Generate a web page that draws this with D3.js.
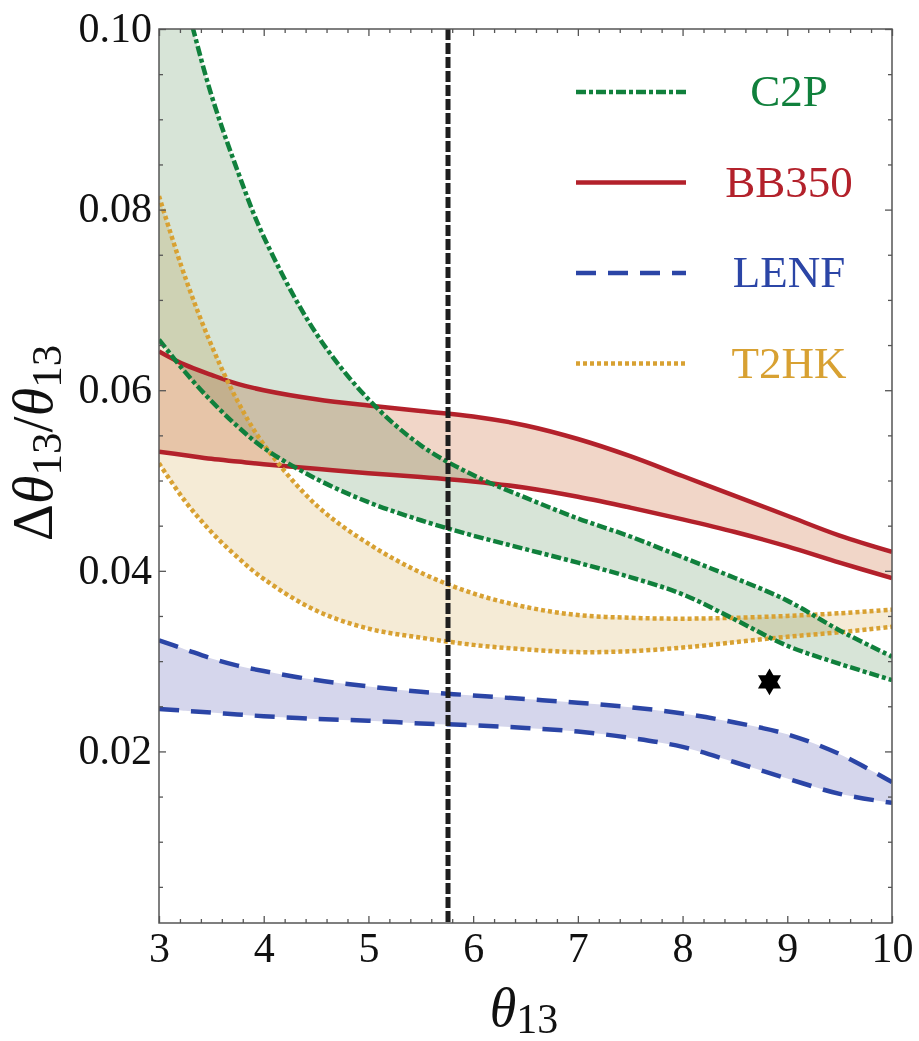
<!DOCTYPE html>
<html>
<head>
<meta charset="utf-8">
<script src="https://cdn.jsdelivr.net/npm/d3@7"></script>
<style>
  html, body { margin: 0; padding: 0; background: #fff; }
  svg { display: block; font-family: "Liberation Serif", "Times New Roman", serif; }
</style>
</head>
<body>
<svg id="chart" width="919" height="1041"></svg>
<script>
// theta13 grid shared by all the bands
var theta = [3, 3.25, 3.5, 3.75, 4, 4.5, 5, 5.5, 6, 6.5, 7, 7.5, 8, 8.5, 9, 9.5, 10];

var c2pUpper = [0.1130, 0.1032, 0.0927, 0.0843, 0.0770, 0.0663, 0.0590, 0.0539, 0.0506, 0.0481, 0.0458, 0.0438, 0.0415, 0.0392, 0.0367, 0.0334, 0.0305];
var c2pLower = [0.0656, 0.0620, 0.0588, 0.0560, 0.0536, 0.0502, 0.0476, 0.0456, 0.0439, 0.0424, 0.0409, 0.0393, 0.0374, 0.0346, 0.0317, 0.0297, 0.0279];

var bb350Upper = [0.0643, 0.0628, 0.0617, 0.0607, 0.0600, 0.0590, 0.0583, 0.0577, 0.0571, 0.0561, 0.0546, 0.0527, 0.0505, 0.0483, 0.0461, 0.0439, 0.0421];
var bb350Lower = [0.0532, 0.0528, 0.0524, 0.0521, 0.0518, 0.0513, 0.0508, 0.0504, 0.0499, 0.0492, 0.0482, 0.0470, 0.0457, 0.0443, 0.0427, 0.0409, 0.0392];

var lenfUpper = [0.0323, 0.0313, 0.0303, 0.0295, 0.0289, 0.0279, 0.0272, 0.0266, 0.0262, 0.0258, 0.0254, 0.0249, 0.0242, 0.0232, 0.0219, 0.0197, 0.0166];
var lenfLower = [0.0247, 0.0245, 0.0243, 0.0241, 0.0239, 0.0236, 0.0234, 0.0231, 0.0229, 0.0226, 0.0222, 0.0215, 0.0205, 0.0188, 0.0170, 0.0153, 0.0143];

var t2hkUpper = [0.0815, 0.0725, 0.0650, 0.0588, 0.0540, 0.0473, 0.0430, 0.0398, 0.0375, 0.0360, 0.0351, 0.0348, 0.0347, 0.0348, 0.0350, 0.0353, 0.0357];
var t2hkLower = [0.0519, 0.0477, 0.0443, 0.0415, 0.0391, 0.0356, 0.0336, 0.0326, 0.0318, 0.0313, 0.0310, 0.0311, 0.0315, 0.0321, 0.0327, 0.0332, 0.0338];

var xTicks = [3, 4, 5, 6, 7, 8, 9, 10];
var yTicks = [0.02, 0.04, 0.06, 0.08, 0.10];

var markerLine = 5.76;          // vertical dashed line
var starPoint = [8.83, 0.0277]; // black star

var series = [
    { name: 'BB350', color: '#b3212b', fill: '#f1d6c8', dash: null, upper: bb350Upper, lower: bb350Lower },
    { name: 'LENF', color: '#2b45a6', fill: '#d5d6ec', dash: '20,12', upper: lenfUpper, lower: lenfLower },
    { name: 'T2HK', color: '#d8a132', fill: '#f5ebd6', dash: '4,3', upper: t2hkUpper, lower: t2hkLower },
    { name: 'C2P', color: '#10803c', fill: '#d7e4d7', dash: '10,3,4,3', upper: c2pUpper, lower: c2pLower }
];
var legendOrder = ['C2P', 'BB350', 'LENF', 'T2HK'];

var svg = d3.select('#chart');

// plot box in pixels (note: "top" is taken by window.top)
var box = { left: 159, right: 892, top: 29, bottom: 923 };

var x = d3.scaleLinear().domain([3, 10]).range([box.left, box.right]);
var y = d3.scaleLinear().domain([0.001, 0.1]).range([box.bottom, box.top]);

var curve = d3.curveCatmullRom.alpha(0.5);

svg.append('defs').append('clipPath').attr('id', 'plotClip')
    .append('rect')
    .attr('x', box.left).attr('y', box.top)
    .attr('width', box.right - box.left).attr('height', box.bottom - box.top);

var plot = svg.append('g').attr('clip-path', 'url(#plotClip)');

// bands first (multiplied so overlaps darken), then the edges on top
series.forEach(function (s) {
    var pts = theta.map(function (t, i) { return { t: t, lo: s.lower[i], hi: s.upper[i] }; });
    var area = d3.area()
        .x(function (d) { return x(d.t); })
        .y0(function (d) { return y(d.lo); })
        .y1(function (d) { return y(d.hi); })
        .curve(curve);
    plot.append('path').datum(pts)
        .attr('d', area)
        .attr('fill', s.fill)
        .style('mix-blend-mode', 'multiply');
});

series.forEach(function (s) {
    ['upper', 'lower'].forEach(function (k) {
        var pts = theta.map(function (t, i) { return [t, s[k][i]]; });
        var line = d3.line()
            .x(function (d) { return x(d[0]); })
            .y(function (d) { return y(d[1]); })
            .curve(curve);
        plot.append('path').datum(pts)
            .attr('d', line)
            .attr('fill', 'none')
            .attr('stroke', s.color)
            .attr('stroke-width', 4.5)
            .attr('stroke-dasharray', s.dash);
    });
});

// vertical reference line
svg.append('line')
    .attr('x1', x(markerLine)).attr('x2', x(markerLine))
    .attr('y1', box.top).attr('y2', box.bottom)
    .attr('stroke', '#1e1e1e')
    .attr('stroke-width', 5)
    .attr('stroke-dasharray', '11,3');

// six pointed star = two triangles
var tri = d3.symbol().type(d3.symbolTriangle).size(230);
[0, 180].forEach(function (r) {
    svg.append('path')
        .attr('d', tri())
        .attr('fill', '#000')
        .attr('transform', 'translate(' + x(starPoint[0]) + ',' + y(starPoint[1]) + ') rotate(' + r + ')');
});

// axes (ticks inside on all four sides)
var xMinor = d3.range(3, 10.001, 0.2).filter(function (v) { return Math.abs(v - Math.round(v)) > 0.01; });
var yMinor = d3.range(0.005, 0.1, 0.005).filter(function (v) { return Math.abs(v / 0.02 - Math.round(v / 0.02)) > 0.01; });

var styleAxis = function (g) {
    g.select('.domain').remove();
    g.selectAll('line').attr('stroke', '#555').attr('stroke-width', 1.3);
    g.selectAll('text')
        .attr('fill', '#111')
        .style('font-family', '"Liberation Serif", "Times New Roman", serif')
        .style('font-size', '42px');
};

svg.append('g').attr('transform', 'translate(0,' + box.bottom + ')')
    .call(d3.axisBottom(x).tickValues(xTicks).tickSize(-7).tickPadding(9).tickFormat(d3.format('d')))
    .call(styleAxis);
svg.append('g').attr('transform', 'translate(0,' + box.bottom + ')')
    .call(d3.axisBottom(x).tickValues(xMinor).tickSize(-4).tickFormat(''))
    .call(styleAxis);
svg.append('g').attr('transform', 'translate(0,' + box.top + ')')
    .call(d3.axisTop(x).tickValues(xTicks).tickSize(-7).tickFormat(''))
    .call(styleAxis);
svg.append('g').attr('transform', 'translate(0,' + box.top + ')')
    .call(d3.axisTop(x).tickValues(xMinor).tickSize(-4).tickFormat(''))
    .call(styleAxis);

svg.append('g').attr('transform', 'translate(' + box.left + ',0)')
    .call(d3.axisLeft(y).tickValues(yTicks).tickSize(-7).tickPadding(7).tickFormat(d3.format('.2f')))
    .call(styleAxis)
    .selectAll('text').attr('dy', '0.29em');
svg.append('g').attr('transform', 'translate(' + box.left + ',0)')
    .call(d3.axisLeft(y).tickValues(yMinor).tickSize(-4).tickFormat(''))
    .call(styleAxis);
svg.append('g').attr('transform', 'translate(' + box.right + ',0)')
    .call(d3.axisRight(y).tickValues(yTicks).tickSize(-7).tickFormat(''))
    .call(styleAxis);
svg.append('g').attr('transform', 'translate(' + box.right + ',0)')
    .call(d3.axisRight(y).tickValues(yMinor).tickSize(-4).tickFormat(''))
    .call(styleAxis);

// frame
svg.append('rect')
    .attr('x', box.left).attr('y', box.top)
    .attr('width', box.right - box.left).attr('height', box.bottom - box.top)
    .attr('fill', 'none')
    .attr('stroke', '#555')
    .attr('stroke-width', 1.5);

// legend
var legend = svg.append('g');
legendOrder.forEach(function (name, i) {
    var s = series.filter(function (d) { return d.name === name; })[0];
    var ly = 92 + i * 90.5;
    legend.append('line')
        .attr('x1', 576).attr('x2', 686)
        .attr('y1', ly).attr('y2', ly)
        .attr('stroke', s.color)
        .attr('stroke-width', 4.5)
        .attr('stroke-dasharray', s.dash);
    legend.append('text')
        .attr('x', 789).attr('y', ly + 14)
        .attr('text-anchor', 'middle')
        .attr('fill', s.color)
        .style('font-size', '45px')
        .text(name);
});

// axis titles
var xTitle = svg.append('text')
    .attr('x', 524).attr('y', 1026)
    .attr('text-anchor', 'middle')
    .attr('fill', '#111')
    .style('font-size', '54px');
xTitle.append('tspan').style('font-style', 'italic').text('\u03b8');
xTitle.append('tspan').attr('dy', 7).style('font-size', '42px').text('13');

var yTitle = svg.append('text')
    .attr('transform', 'translate(52,443) rotate(-90)')
    .attr('text-anchor', 'middle')
    .attr('fill', '#111')
    .style('font-size', '58px');
yTitle.append('tspan').text('\u0394');
yTitle.append('tspan').style('font-style', 'italic').text('\u03b8');
yTitle.append('tspan').attr('dy', 9).style('font-size', '43px').text('13');
yTitle.append('tspan').attr('dy', -9).text('/');
yTitle.append('tspan').style('font-style', 'italic').text('\u03b8');
yTitle.append('tspan').attr('dy', 9).style('font-size', '43px').text('13');
</script>
</body>
</html>
